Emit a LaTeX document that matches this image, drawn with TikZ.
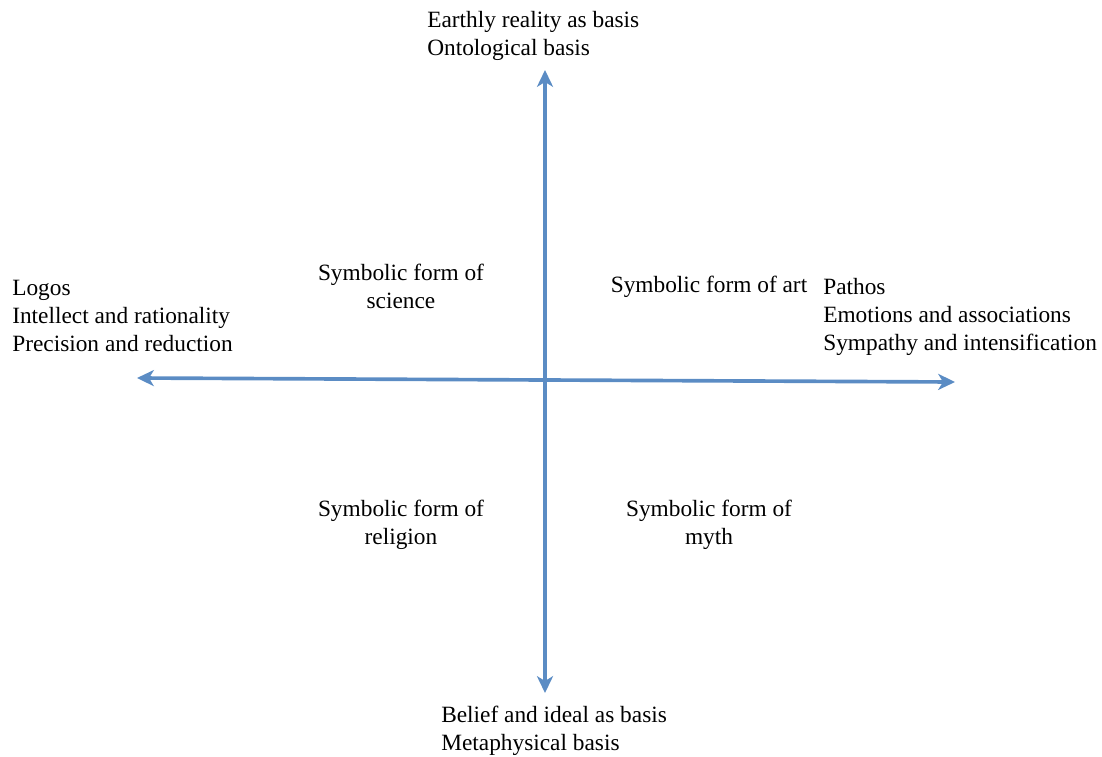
\documentclass[tikz,border=0pt]{standalone}
\usepackage{fontspec}
\setmainfont{Liberation Serif}
\usetikzlibrary{positioning, arrows.meta}
\definecolor{mAxis}{HTML}{5B8CC4}

\begin{document}
\begin{tikzpicture}[
  x=0.025cm, y=-0.025cm,
  every node/.style={font=\fontsize{16.6}{19.9}\selectfont, inner sep=0pt, text=black},
  axis/.style={mAxis, line width=2.6pt, {Stealth[length=4.2mm, width=4mm, inset=1.2mm]}-{Stealth[length=4.2mm, width=4mm, inset=1.2mm]}},
  pole/.style={align=left, anchor=west},
  form/.style={align=center},
]
  % Page
  \useasboundingbox (0,0) rectangle (1102,756);

  % Axis ends
  \coordinate (north) at (545,70);
  \coordinate (south) at (545,693);
  \coordinate (west) at (137,378);
  \coordinate (east) at (955,382);

  % Axes
  \draw[axis] (south) -- (north);
  \draw[axis] (west) -- (east);

  % Poles
  \node[pole] (basis) at (427,36) {Earthly reality as basis\\Ontological basis};
  \node[pole] (belief) at (441,731) {Belief and ideal as basis\\Metaphysical basis};
  \node[pole] (logos) at (12,316) {Logos\\Intellect and rationality\\Precision and reduction};
  \node[pole] (pathos) at (823,317) {Pathos\\Emotions and associations\\Sympathy and intensification};

  % Symbolic forms
  \node[form] (science) at (401,286) {Symbolic form of\\science};
  \node[form] (art) at (709,287) {Symbolic form of art};
  \node[form] (religion) at (401,525) {Symbolic form of\\religion};
  \node[form] (myth) at (709,525) {Symbolic form of\\myth};
\end{tikzpicture}
\end{document}
